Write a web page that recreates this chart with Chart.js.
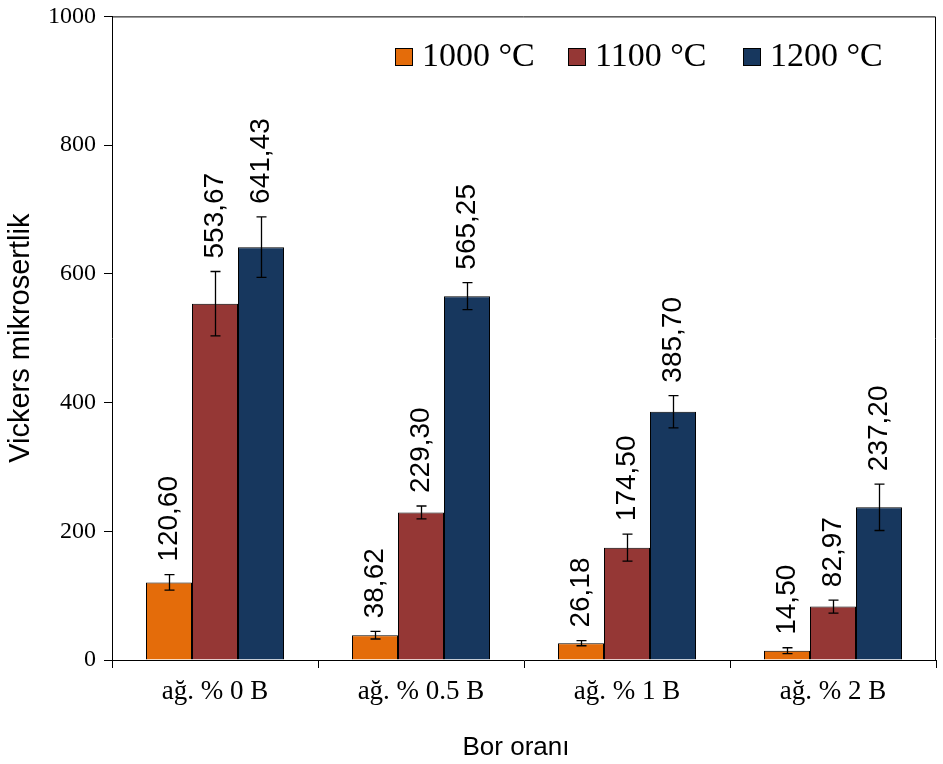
<!DOCTYPE html>
<html>
<head>
<meta charset="utf-8">
<script src="https://cdn.jsdelivr.net/npm/chart.js@4"></script>
<style>
  html, body { margin: 0; padding: 0; background: #fff; }
  #wrap { width: 943px; height: 764px; }
</style>
</head>
<body>
<div id="wrap"><canvas id="myChart" width="943" height="764"></canvas></div>
<script>
const categories = ["ağ. % 0 B", "ağ. % 0.5 B", "ağ. % 1 B", "ağ. % 2 B"];
const seriesNames = ["1000 °C", "1100 °C", "1200 °C"];
const seriesColors = ["#E46C0A", "#953735", "#17375E"];

const values1000 = [120.60, 38.62, 26.18, 14.50];
const values1100 = [553.67, 229.30, 174.50, 82.97];
const values1200 = [641.43, 565.25, 385.70, 237.20];

// error bar half-widths
const err1000 = [12, 6, 4, 4.5];
const err1100 = [50, 10, 21, 10];
const err1200 = [47, 21, 25, 36];

const yTicks = [0, 200, 400, 600, 800, 1000];

const allValues = [values1000, values1100, values1200];
const allErrors = [err1000, err1100, err1200];

const serif = "'Liberation Serif', 'Times New Roman', serif";
const sans = "'Liberation Sans', Arial, sans-serif";

function fmt(v) {
    return v.toFixed(2).replace(".", ",");
}

const extrasPlugin = {
    id: "extras",
    afterDatasetsDraw(chart) {
        const ctx = chart.ctx;
        const yScale = chart.scales.y;
        const area = chart.chartArea;

        // frame top + right
        ctx.save();
        ctx.strokeStyle = "#000";
        ctx.lineWidth = 1;
        ctx.beginPath();
        ctx.moveTo(area.left, area.top + 0.5);
        ctx.lineTo(area.right - 0.5, area.top + 0.5);
        ctx.lineTo(area.right - 0.5, area.bottom);
        ctx.stroke();

        chart.data.datasets.forEach((ds, di) => {
            const meta = chart.getDatasetMeta(di);
            meta.data.forEach((bar, i) => {
                const v = ds.data[i];
                const e = allErrors[di][i];
                const yTop = yScale.getPixelForValue(v + e);
                const yBot = yScale.getPixelForValue(v - e);
                const x = Math.round(bar.x) + 0.5;
                ctx.strokeStyle = "#000";
                ctx.lineWidth = 1.3;
                ctx.beginPath();
                ctx.moveTo(x, yTop);
                ctx.lineTo(x, yBot);
                ctx.moveTo(x - 5, yTop);
                ctx.lineTo(x + 5, yTop);
                ctx.moveTo(x - 5, yBot);
                ctx.lineTo(x + 5, yBot);
                ctx.stroke();

                // value label, rotated
                ctx.save();
                ctx.translate(bar.x, yTop - 13);
                ctx.rotate(-Math.PI / 2);
                ctx.fillStyle = "#000";
                ctx.font = "28px " + sans;
                ctx.textAlign = "left";
                ctx.textBaseline = "middle";
                ctx.fillText(fmt(v), 0, 0);
                ctx.restore();
            });
        });

        // legend
        const legendX = [395, 568, 743];
        ctx.font = "34px " + serif;
        ctx.textBaseline = "middle";
        ctx.textAlign = "left";
        seriesNames.forEach((name, i) => {
            ctx.fillStyle = seriesColors[i];
            ctx.fillRect(legendX[i], 48, 17, 17);
            ctx.strokeStyle = "#000";
            ctx.lineWidth = 1;
            ctx.strokeRect(legendX[i] + 0.5, 48.5, 17, 17);
            ctx.fillStyle = "#000";
            ctx.fillText(name, legendX[i] + 27, 57);
        });

        // axis titles
        ctx.font = "26px " + sans;
        ctx.textAlign = "center";
        ctx.fillText("Bor oranı", 516, 748);

        ctx.save();
        ctx.translate(21, (area.top + area.bottom) / 2);
        ctx.rotate(-Math.PI / 2);
        ctx.font = "29px " + sans;
        ctx.fillText("Vickers mikrosertlik", 0, 0);
        ctx.restore();

        ctx.restore();
    }
};

const datasets = seriesNames.map((name, i) => ({
    label: name,
    data: allValues[i],
    backgroundColor: seriesColors[i],
    borderColor: "#000",
    borderWidth: 1,
    categoryPercentage: 0.67,
    barPercentage: 1.0
}));

const ctx = document.getElementById("myChart").getContext("2d");

const myChart = new Chart(ctx, {
    type: "bar",
    data: { labels: categories, datasets },
    plugins: [extrasPlugin],
    options: {
        responsive: false,
        animation: false,
        events: [],
        layout: { padding: { top: 0, right: 7, left: 0, bottom: 0 } },
        plugins: {
            legend: { display: false },
            tooltip: { enabled: false }
        },
        scales: {
            x: {
                grid: {
                    display: true,
                    offset: true,
                    drawOnChartArea: false,
                    drawTicks: true,
                    tickLength: 8,
                    color: "#000"
                },
                border: { display: true, color: "#000", width: 1 },
                ticks: {
                    color: "#000",
                    font: { family: serif, size: 27 },
                    padding: 8,
                    maxRotation: 0
                },
                afterFit(scale) { scale.height = 104; }
            },
            y: {
                min: 0,
                max: 1000,
                afterBuildTicks(scale) {
                    scale.ticks = yTicks.map(v => ({ value: v }));
                },
                grid: {
                    display: true,
                    drawOnChartArea: false,
                    drawTicks: true,
                    tickLength: 8,
                    color: "#000"
                },
                border: { display: true, color: "#000", width: 1 },
                ticks: {
                    color: "#000",
                    font: { family: serif, size: 24, lineHeight: 0.7 },
                    padding: 8,
                    callback: v => String(v)
                },
                afterFit(scale) { scale.width = 112; }
            }
        }
    }
});
</script>
</body>
</html>
